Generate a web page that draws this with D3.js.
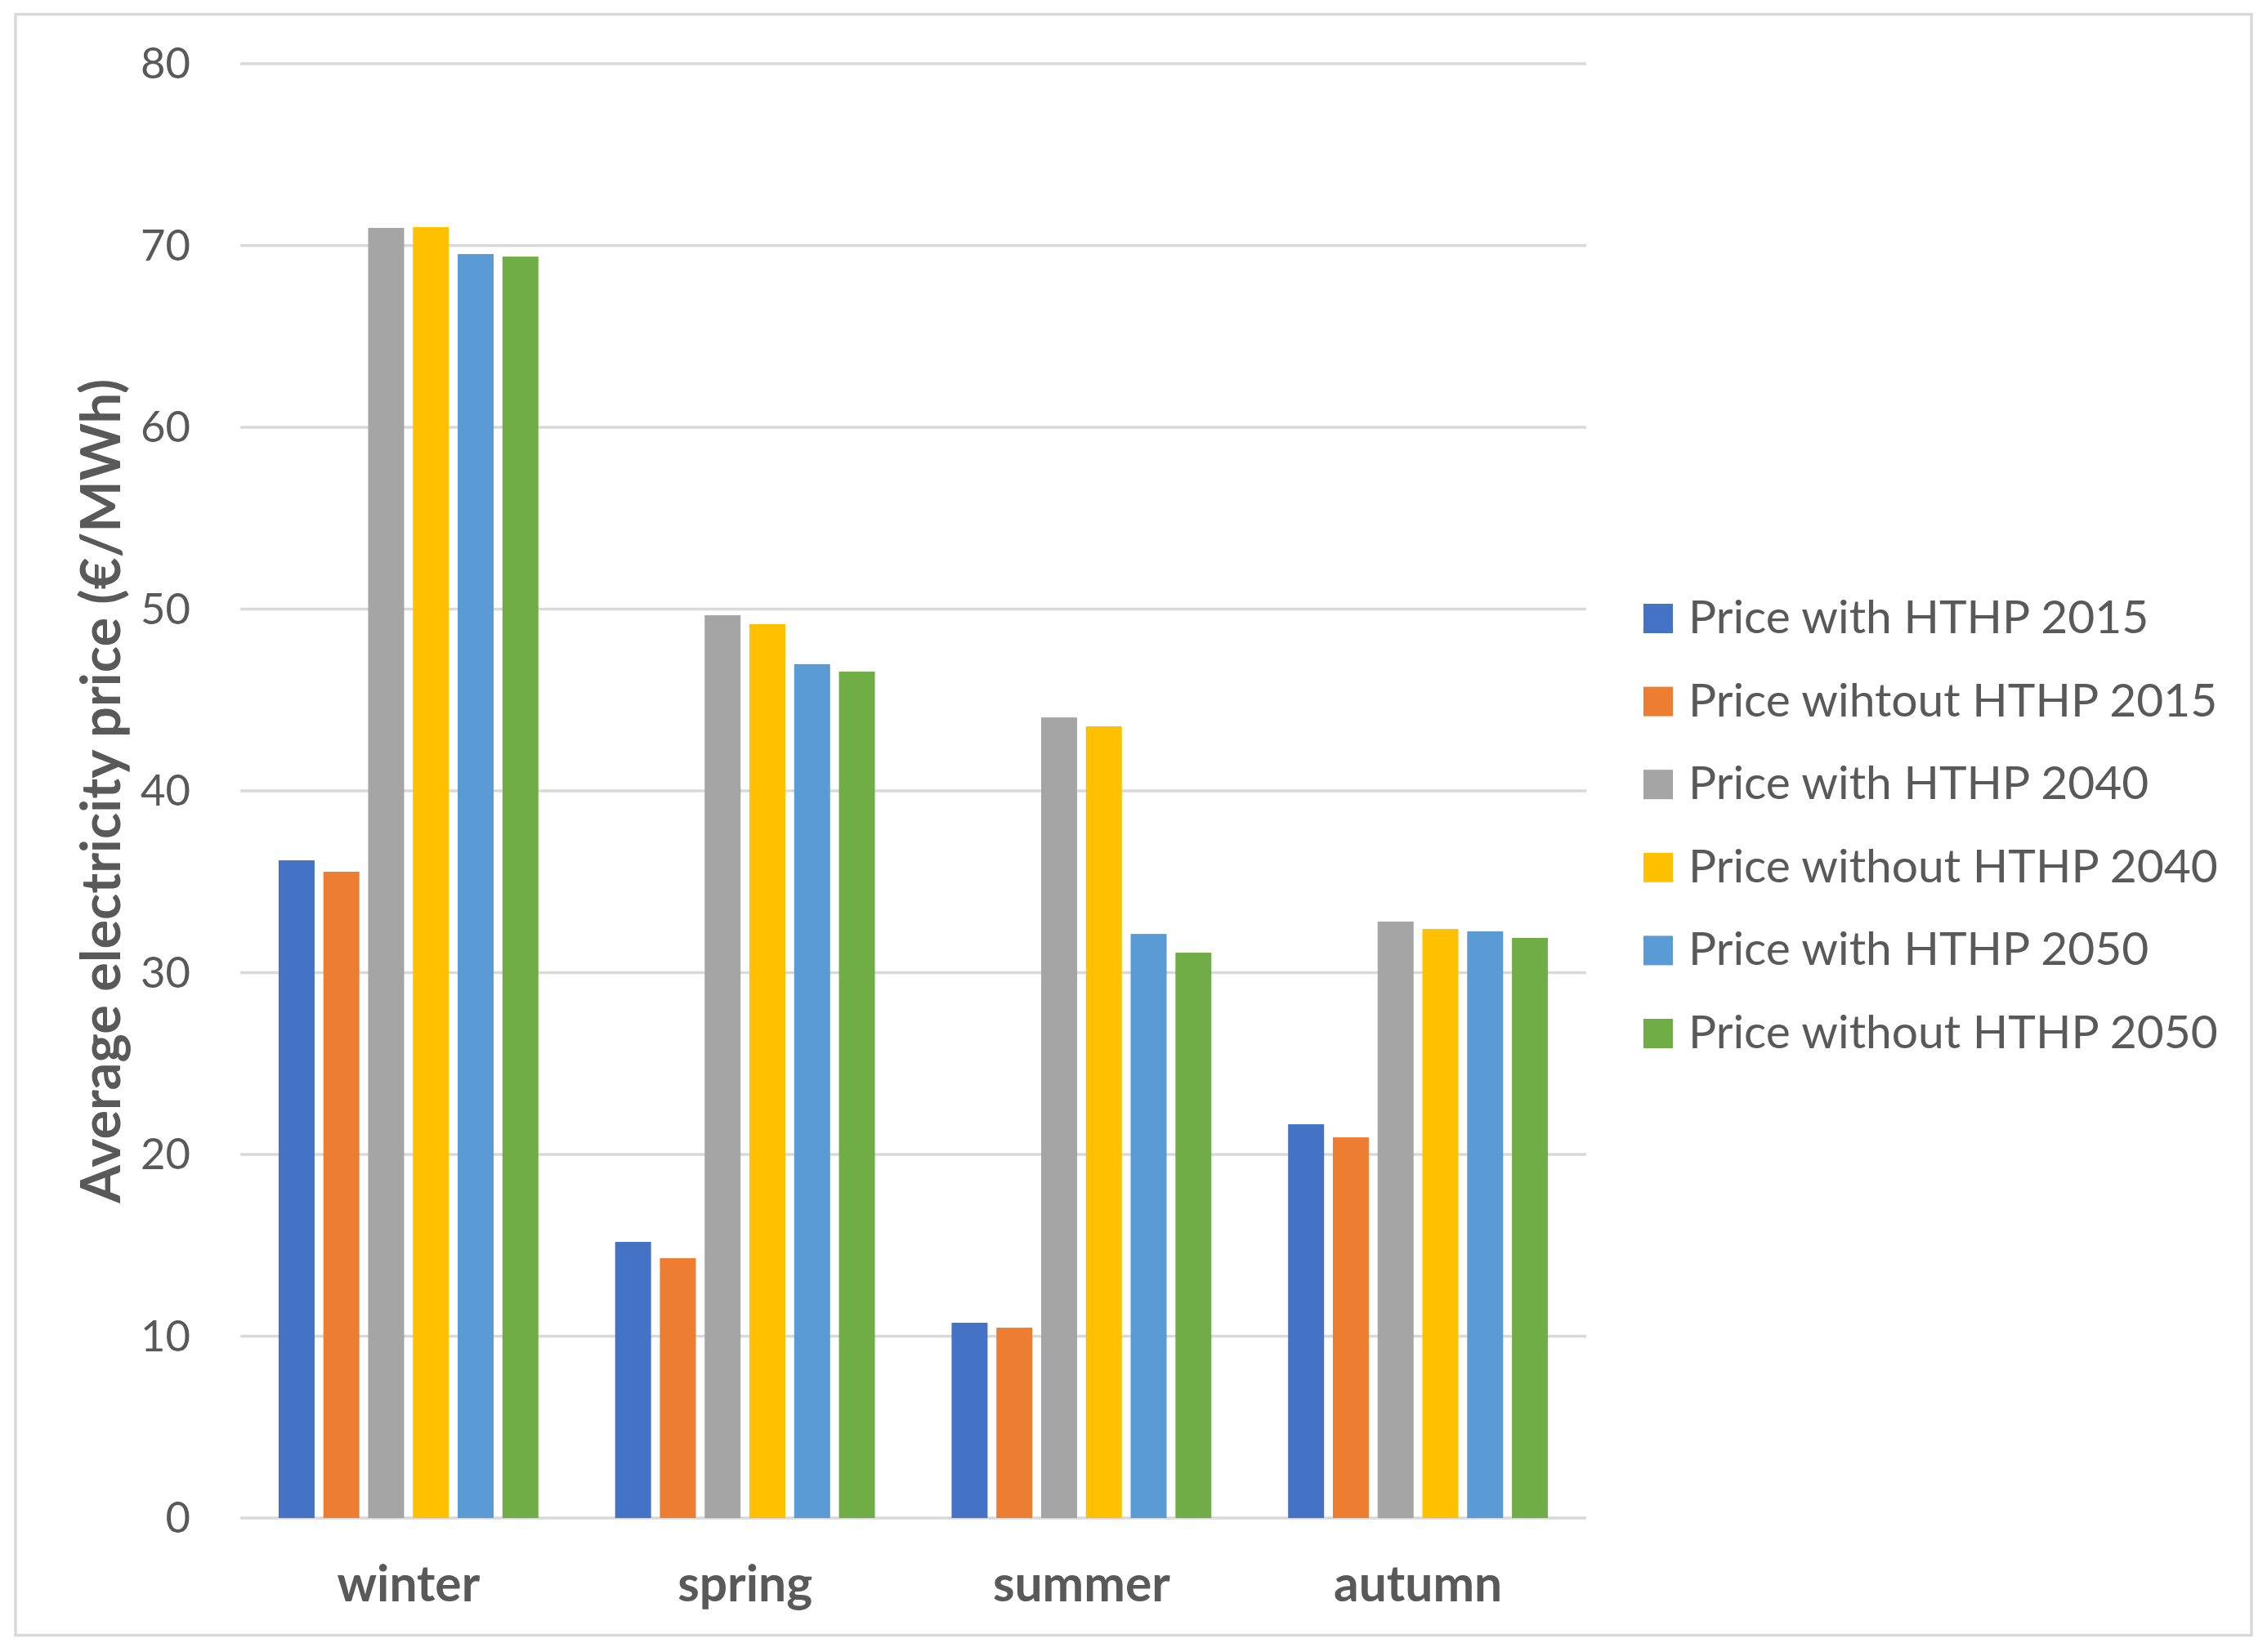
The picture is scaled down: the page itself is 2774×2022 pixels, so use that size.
<!DOCTYPE html>
<html>
<head>
<meta charset="utf-8">
<script src="https://cdn.jsdelivr.net/npm/d3@7"></script>
<style>
  html, body { margin: 0; padding: 0; background: #ffffff; }
  svg { display: block; }
  text { font-family: Lato, "Open Sans", "Noto Sans", sans-serif; fill: #595959; }
</style>
</head>
<body>
<svg id="chart" width="2774" height="2022"></svg>
<script>
// ---- data ----
const categories = ["winter", "spring", "summer", "autumn"];
const seriesNames = [
  "Price with HTHP 2015",
  "Price wihtout HTHP 2015",
  "Price with HTHP 2040",
  "Price without HTHP 2040",
  "Price with HTHP 2050",
  "Price without HTHP 2050"
];
const withHTHP2015    = [36.18, 15.19, 10.74, 21.66];
const withoutHTHP2015 = [35.55, 14.29, 10.47, 20.94];
const withHTHP2040    = [70.97, 49.66, 44.04, 32.81];
const withoutHTHP2040 = [71.01, 49.17, 43.55, 32.40];
const withHTHP2050    = [69.53, 46.97, 32.13, 32.27];
const withoutHTHP2050 = [69.39, 46.56, 31.10, 31.91];
const yTicks = [0, 10, 20, 30, 40, 50, 60, 70, 80];
const yTitle = "Average electricity price (€/MWh)";

const seriesValues = [withHTHP2015, withoutHTHP2015, withHTHP2040, withoutHTHP2040, withHTHP2050, withoutHTHP2050];
const colors = ["#4472C4", "#ED7D31", "#A5A5A5", "#FFC000", "#5B9BD5", "#70AD47"];

// ---- layout ----
const svg = d3.select("#chart");
const plot = { left: 294, right: 1941, top: 78, bottom: 1858 };

// fit font-size so that text spans a target width
function fit(sel, target) {
  const base = 50;
  sel.style("font-size", base + "px");
  const len = sel.node().getComputedTextLength();
  sel.style("font-size", (base * target / len) + "px");
}

// outer border
svg.append("rect")
  .attr("x", 19).attr("y", 17.5)
  .attr("width", 2736).attr("height", 1984)
  .attr("fill", "none").attr("stroke", "#d9d9d9").attr("stroke-width", 3.5);

const y = d3.scaleLinear().domain([0, 80]).range([plot.bottom, plot.top]);
const x0 = d3.scaleBand().domain(categories).range([plot.left, plot.right])
  .paddingInner(0.228).paddingOuter(0.114);
const x1 = d3.scaleBand().domain(d3.range(seriesNames.length)).range([0, x0.bandwidth()])
  .paddingInner(0.197).paddingOuter(0);

// gridlines
svg.append("g").selectAll("line").data(yTicks).join("line")
  .attr("x1", plot.left).attr("x2", plot.right)
  .attr("y1", d => y(d)).attr("y2", d => y(d))
  .attr("stroke", "#d9d9d9").attr("stroke-width", 3.5);

// y tick labels
const tickG = svg.append("g");
const tickLabels = tickG.selectAll("text").data(yTicks).join("text")
  .attr("x", 233).attr("y", d => y(d) + 18)
  .attr("text-anchor", "end")
  .text(d => d);
const t80 = tickLabels.filter(d => d === 80);
fit(t80, 61);
tickLabels.style("font-size", t80.style("font-size"));

// bars
const groups = svg.append("g").selectAll("g").data(categories).join("g")
  .attr("transform", c => `translate(${x0(c)},0)`);
groups.selectAll("rect")
  .data((c, ci) => seriesValues.map((vals, si) => ({ si, v: vals[ci] })))
  .join("rect")
  .attr("x", d => x1(d.si))
  .attr("width", x1.bandwidth())
  .attr("y", d => y(d.v))
  .attr("height", d => y(0) - y(d.v))
  .attr("fill", d => colors[d.si]);

// category labels
const catLabels = svg.append("g").selectAll("text").data(categories).join("text")
  .attr("x", c => x0(c) + x0.bandwidth() / 2)
  .attr("y", 1960)
  .attr("text-anchor", "middle")
  .style("font-weight", "bold")
  .text(c => c);
const summerLabel = catLabels.filter(c => c === "summer");
fit(summerLabel, 217);
catLabels.style("font-size", summerLabel.style("font-size"));

// y axis title
const yt = svg.append("text")
  .attr("transform", `translate(121, ${(plot.top + plot.bottom) / 2}) rotate(-90)`)
  .attr("text-anchor", "middle")
  .attr("dominant-baseline", "central")
  .style("font-weight", "bold")
  .text(yTitle);
fit(yt, 1009);

// legend
const legend = svg.append("g");
const legItems = legend.selectAll("g").data(seriesNames).join("g")
  .attr("transform", (d, i) => `translate(2011, ${757 + i * 101.6})`);
legItems.append("rect")
  .attr("x", 0).attr("y", -18).attr("width", 36).attr("height", 36)
  .attr("fill", (d, i) => colors[i]);
const legTexts = legItems.append("text")
  .attr("x", 55).attr("y", 18)
  .text(d => d);
const longest = legTexts.filter(d => d === "Price without HTHP 2050");
fit(longest, 648);
legTexts.style("font-size", longest.style("font-size"));
</script>
</body>
</html>
